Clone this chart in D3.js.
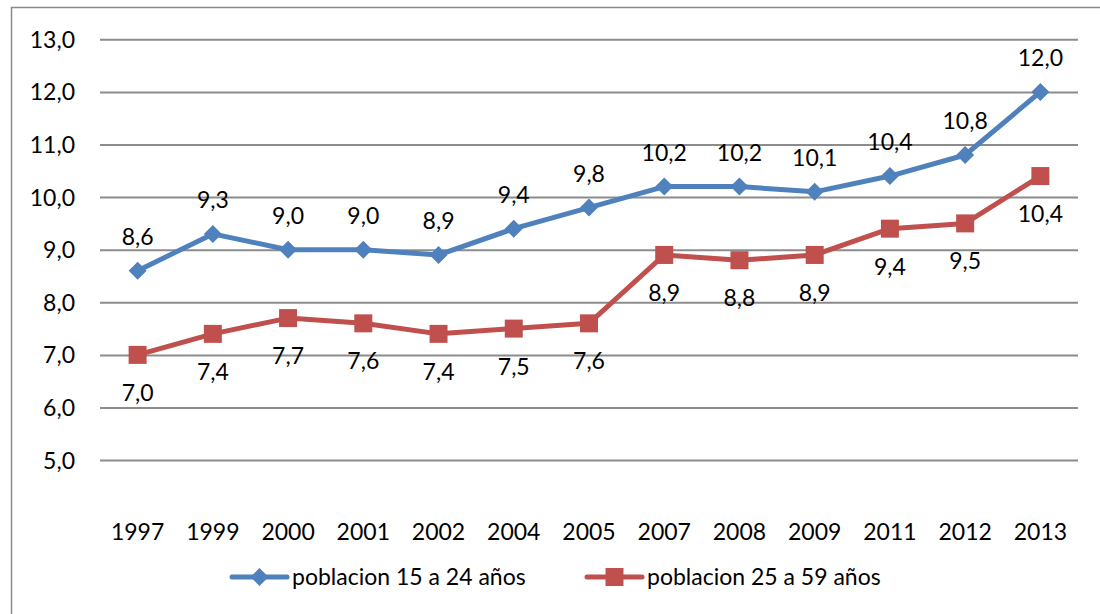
<!DOCTYPE html>
<html>
<head>
<meta charset="utf-8">
<script src="https://cdn.jsdelivr.net/npm/d3@7"></script>
<style>
  body { margin: 0; background: #fff; }
  svg text { font-family: Lato, "Open Sans", sans-serif; fill: #000; }
</style>
</head>
<body>
<div id="chart"></div>
<script>
// data
var years = ["1997","1999","2000","2001","2002","2004","2005","2007","2008","2009","2011","2012","2013"];
var joven = [8.6, 9.3, 9.0, 9.0, 8.9, 9.4, 9.8, 10.2, 10.2, 10.1, 10.4, 10.8, 12.0];
var adulto = [7.0, 7.4, 7.7, 7.6, 7.4, 7.5, 7.6, 8.9, 8.8, 8.9, 9.4, 9.5, 10.4];
var yTicks = [5, 6, 7, 8, 9, 10, 11, 12, 13];
var serieNames = ["poblacion 15 a 24 años", "poblacion 25 a 59 años"];

var width = 1100, height = 614;
// plot box (window.top is read-only, so no "top" here)
var plotL = 100, plotR = 1078, plotT = 39.3, plotB = 512.7;
var blue = "#4F81BD", red = "#C0504D";
var fs = 23;
var fmt = function(v){ return d3.format(".1f")(v).replace(".", ","); };

var svg = d3.select("#chart").append("svg").attr("width", width).attr("height", height);

// outer frame (only top and left visible)
svg.append("path")
  .attr("d", "M11.5," + height + "V7.5H" + width)
  .attr("fill", "none").attr("stroke", "#8a8a8a").attr("stroke-width", 1.5);

var x = d3.scaleBand().domain(years).range([plotL, plotR]);
var y = d3.scaleLinear().domain([4, 13]).range([plotB, plotT]);

var yAxis = d3.axisLeft(y).tickValues(yTicks).tickSize(-(plotR - plotL)).tickPadding(25).tickFormat(fmt);
var gy = svg.append("g").attr("transform", "translate(" + plotL + ",0)").call(yAxis);
gy.select(".domain").remove();
gy.selectAll(".tick line").attr("stroke", "#8c8c8c").attr("stroke-width", 2);
gy.selectAll(".tick text").attr("font-size", fs).attr("dy", "0.35em");

var xAxis = d3.axisBottom(x).tickSize(0).tickPadding(11);
var gx = svg.append("g").attr("transform", "translate(0," + plotB + ")").call(xAxis);
gx.select(".domain").remove();
gx.selectAll(".tick text").attr("font-size", fs).attr("dy", "0.71em");

var cx = function(i){ return x(years[i]) + x.bandwidth() / 2; };
var line = d3.line().x(function(d, i){ return cx(i); }).y(function(d){ return y(d); });

function drawSerie(vals, color, shape, labelDy){
  var g = svg.append("g");
  g.append("path").attr("d", line(vals)).attr("fill", "none")
    .attr("stroke", color).attr("stroke-width", 5).attr("stroke-linejoin", "round");
  g.selectAll(".m").data(vals).enter().append("path")
    .attr("transform", function(d, i){ return "translate(" + cx(i) + "," + y(d) + ")"; })
    .attr("d", shape).attr("fill", color);
  g.selectAll(".lbl").data(vals).enter().append("text")
    .attr("x", function(d, i){ return cx(i); })
    .attr("y", function(d){ return y(d) + labelDy; })
    .attr("text-anchor", "middle").attr("dy", "0.35em")
    .attr("font-size", fs).text(fmt);
}

var diamond = "M0,-9L9,0L0,9L-9,0Z";
var square = "M-9,-9H9V9H-9Z";
drawSerie(joven, blue, diamond, -34);
drawSerie(adulto, red, square, 38);

// legend
var legend = [
  {name: serieNames[0], color: blue, shape: diamond, x: 232},
  {name: serieNames[1], color: red, shape: square, x: 587}
];
var ly = 577;
legend.forEach(function(l){
  var g = svg.append("g").attr("transform", "translate(" + l.x + "," + ly + ")");
  g.append("line").attr("x1", 0).attr("x2", 55).attr("stroke", l.color)
    .attr("stroke-width", 5).attr("stroke-linecap", "round");
  g.append("path").attr("transform", "translate(27.5,0)").attr("d", l.shape).attr("fill", l.color);
  g.append("text").attr("x", 60).attr("dy", "0.35em").attr("font-size", fs).text(l.name);
});
</script>
</body>
</html>
